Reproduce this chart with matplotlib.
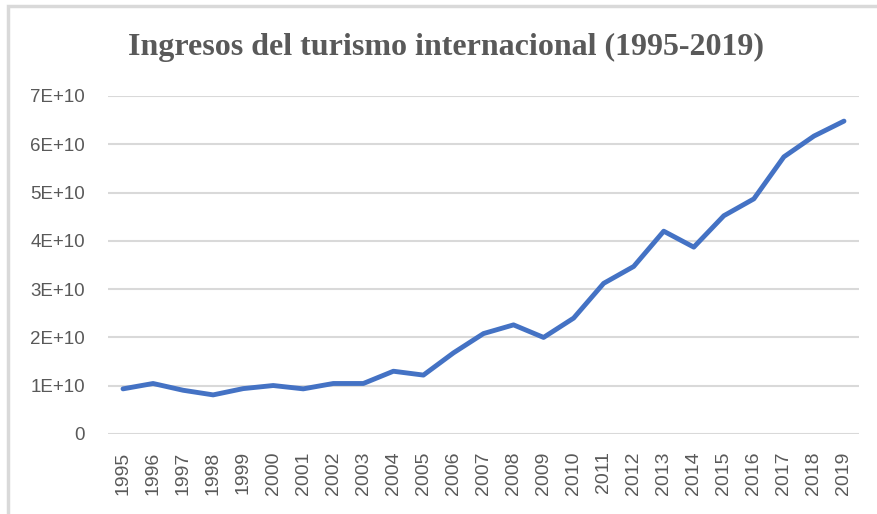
import matplotlib
matplotlib.use("Agg")
import matplotlib.pyplot as plt
from matplotlib.patches import Rectangle

years = [str(y) for y in range(1995, 2020)]
ingresos = [0.935e10, 1.046e10, 0.906e10, 0.81e10, 0.94e10, 1.004e10, 0.935e10,
            1.046e10, 1.046e10, 1.30e10, 1.22e10, 1.68e10, 2.08e10, 2.26e10,
            2.00e10, 2.40e10, 3.12e10, 3.47e10, 4.20e10, 3.87e10, 4.52e10,
            4.87e10, 5.74e10, 6.17e10, 6.48e10]
yticks = [0, 1e10, 2e10, 3e10, 4e10, 5e10, 6e10, 7e10]
ytick_labels = ["0", "1E+10", "2E+10", "3E+10", "4E+10", "5E+10", "6E+10", "7E+10"]

W, H = 877, 514
fig = plt.figure(figsize=(W / 100, H / 100), dpi=100)
fig.patch.set_facecolor("white")

# outer frame (cropped on right/bottom)
fig.patches.append(Rectangle((8 / W, -0.1), 2.0, (1 - 6 / H) + 0.1,
                             transform=fig.transFigure, fill=False,
                             edgecolor="#d9d9d9", linewidth=2.5))

left, right = 108, 859
top, bottom = 96, 434
ax = fig.add_axes([left / W, 1 - bottom / H, (right - left) / W, (bottom - top) / H])

x = list(range(len(years)))
ax.plot(x, ingresos, color="#4472c4", linewidth=3.5, solid_capstyle="round",
        solid_joinstyle="round", zorder=3)

ax.set_xlim(-0.5, len(years) - 0.5)
ax.set_ylim(0, 7e10)
ax.set_yticks(yticks)
ax.set_yticklabels(ytick_labels)
ax.set_xticks(x)
ax.set_xticklabels(years, rotation=90)

for s in ax.spines.values():
    s.set_visible(False)
ax.grid(axis="y", color="#d9d9d9", linewidth=1.5)
ax.set_axisbelow(True)
ax.tick_params(axis="both", length=0, colors="#595959")
ax.tick_params(axis="y", pad=16.5, labelsize=13.5)
ax.tick_params(axis="x", pad=12.5, labelsize=14)
for lab in ax.get_xticklabels() + ax.get_yticklabels():
    lab.set_fontfamily("Liberation Sans")
    lab.set_color("#595959")

fig.text(446 / W, 1 - 47 / H, "Ingresos del turismo internacional (1995-2019)",
         ha="center", va="center", fontsize=23, fontweight="bold",
         family="Liberation Serif", color="#595959")

fig.savefig("out.png", dpi=100)
